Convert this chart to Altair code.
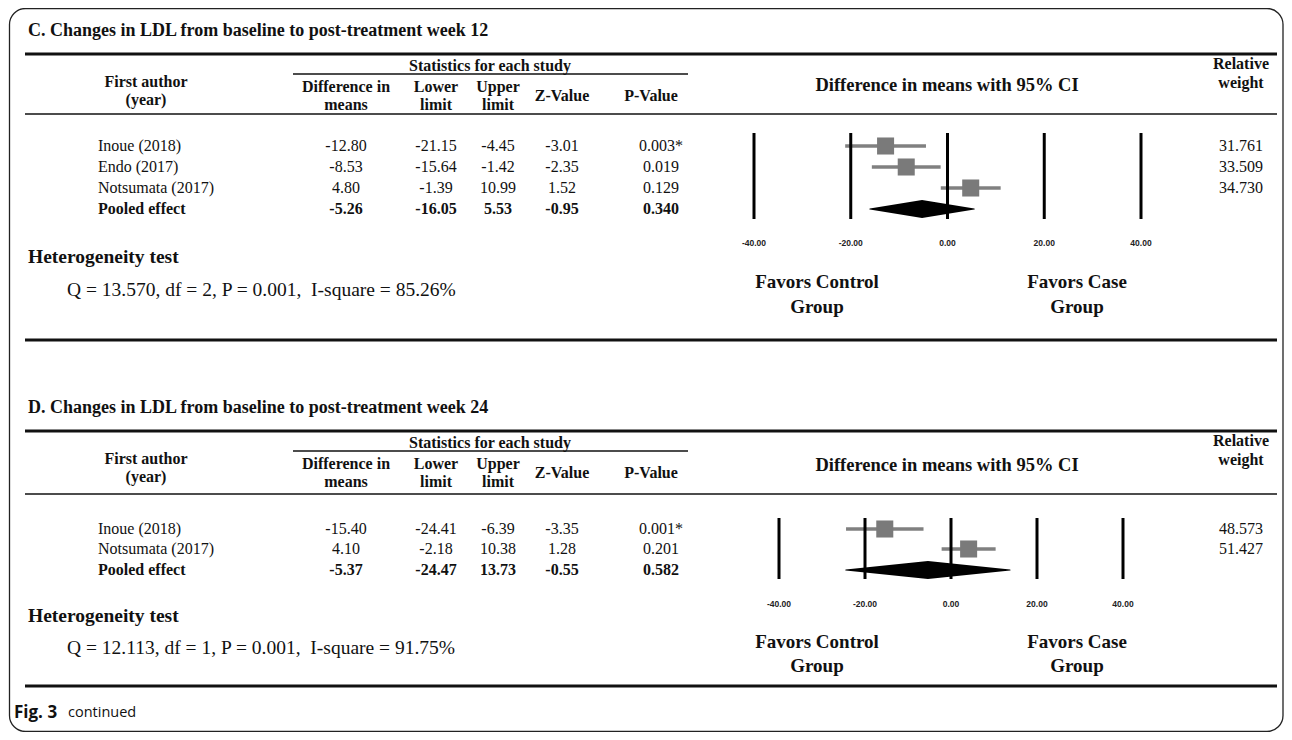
import altair as alt
import pandas as pd

# ---------------- data ----------------
c_title = "C. Changes in LDL from baseline to post-treatment week 12"
c_authors = ["Inoue (2018)", "Endo (2017)", "Notsumata (2017)"]
c_diff = [-12.80, -8.53, 4.80]
c_lower = [-21.15, -15.64, -1.39]
c_upper = [-4.45, -1.42, 10.99]
c_z = [-3.01, -2.35, 1.52]
c_p = ["0.003*", "0.019", "0.129"]
c_weight = [31.761, 33.509, 34.730]
c_pooled = [-5.26, -16.05, 5.53, -0.95]
c_pooled_p = "0.340"
c_het = "Q = 13.570, df = 2, P = 0.001, \u00a0I-square = 85.26%"

d_title = "D. Changes in LDL from baseline to post-treatment week 24"
d_authors = ["Inoue (2018)", "Notsumata (2017)"]
d_diff = [-15.40, 4.10]
d_lower = [-24.41, -2.18]
d_upper = [-6.39, 10.38]
d_z = [-3.35, 1.28]
d_p = ["0.001*", "0.201"]
d_weight = [48.573, 51.427]
d_pooled = [-5.37, -24.47, 13.73, -0.55]
d_pooled_p = "0.582"
d_het = "Q = 12.113, df = 1, P = 0.001, \u00a0I-square = 91.75%"

axis_ticks = [-40, -20, 0, 20, 40]
col_headers = [["Difference in", "means"], ["Lower", "limit"], ["Upper", "limit"], ["Z-Value"], ["P-Value"]]

# ---------------- layout (page pixels) ----------------
OFF = 8
W, H = 1276, 724
NAME_X = 98
FA_X = 146
COLS = [346, 436, 498, 562, 661]
HDR_COLS = [346, 436, 498, 562, 651]
STATS_X = 490
UNDER = (293, 688)
CI_X = 947
REL_X = 1241
FAV = (817, 1077)
RULE = (25, 1277)
TITLE_X = 28
Q_X = 67
DIAMOND_H = 18

SERIF = "Liberation Serif"
SANS = "Liberation Sans"

LC = dict(title=31, bold=54, stats=66, under=74, fa1=82, fa2=100, h1=87, h2=105, zp=96,
          rel1=64, rel2=83, ci=85, thin=114, rows=[146, 167, 188], pooled=209,
          vtop=133, vbot=219, ticks=243, het=257, q=290, fav1=282, fav2=307, bottom=340,
          fx=(754, 1141))
LD = dict(title=408, bold=431, stats=443, under=451, fa1=459, fa2=477, h1=464, h2=482, zp=473,
          rel1=441, rel2=460, ci=465, thin=494, rows=[529, 549], pooled=570,
          vtop=518, vbot=579, ticks=604, het=616, q=648, fav1=642, fav2=666, bottom=686,
          fx=(779, 1123))

texts = []
rules = []


def T(s, x, y, fs, style):
    texts.append(dict(t=s, x=x - OFF, y=y - OFF, fs=fs, st=style))


def R(x1, x2, y, w):
    rules.append(dict(x1=x1 - OFF, x2=x2 - OFF, y=y - OFF, w=w))


forest_layers = []


def panel(L, title, authors, diff, lower, upper, z, p, weight, pooled, pooled_p, het):
    T(title, TITLE_X, L["title"], 18, "sbl")
    R(RULE[0], RULE[1], L["bold"], 3)
    T("Statistics for each study", STATS_X, L["stats"], 16, "sbc")
    R(UNDER[0], UNDER[1], L["under"], 1.5)
    T("First author", FA_X, L["fa1"], 16, "sbc")
    T("(year)", FA_X, L["fa2"], 16, "sbc")
    for cx, hdr in zip(HDR_COLS, col_headers):
        if len(hdr) == 2:
            T(hdr[0], cx, L["h1"], 16, "sbc")
            T(hdr[1], cx, L["h2"], 16, "sbc")
        else:
            T(hdr[0], cx, L["zp"], 16, "sbc")
    T("Difference in means with 95% CI", CI_X, L["ci"], 18.5, "sbc")
    T("Relative", REL_X, L["rel1"], 16, "sbc")
    T("weight", REL_X, L["rel2"], 16, "sbc")
    R(RULE[0], RULE[1], L["thin"], 1.5)
    for i, a in enumerate(authors):
        y = L["rows"][i]
        T(a, NAME_X, y, 16, "srl")
        vals = [f"{diff[i]:.2f}", f"{lower[i]:.2f}", f"{upper[i]:.2f}", f"{z[i]:.2f}", p[i]]
        for cx, v in zip(COLS, vals):
            T(v, cx, y, 16, "src")
        T(f"{weight[i]:.3f}", REL_X, y, 16, "src")
    yp = L["pooled"]
    T("Pooled effect", NAME_X, yp, 16, "sbl")
    pv = [f"{v:.2f}" for v in pooled] + [pooled_p]
    for cx, v in zip(COLS, pv):
        T(v, cx, yp, 16, "sbc")
    T("Heterogeneity test", TITLE_X, L["het"], 19.5, "sbl")
    T(het, Q_X, L["q"], 19.5, "srl")
    T("Favors Control", FAV[0], L["fav1"], 19, "sbc")
    T("Group", FAV[0], L["fav2"], 19, "sbc")
    T("Favors Case", FAV[1], L["fav1"], 19, "sbc")
    T("Group", FAV[1], L["fav2"], 19, "sbc")
    R(RULE[0], RULE[1], L["bottom"], 3)

    # forest plot
    fs = alt.Scale(domain=[-40, 40], range=[L["fx"][0] - OFF, L["fx"][1] - OFF])
    ys = [y - OFF for y in L["rows"]]
    ci_df = pd.DataFrame({"lo": lower, "hi": upper, "est": diff, "y": ys})
    vl_df = pd.DataFrame({"tick": axis_ticks, "y1": L["vtop"] - OFF, "y2": L["vbot"] - OFF,
                          "lab": [f"{t:.2f}" for t in axis_ticks], "yl": L["ticks"] - OFF})
    yc = yp - OFF
    # pooled diamond: lower limit -> estimate -> upper limit, width tapering to zero at the limits
    dm_df = pd.DataFrame({"ex": [pooled[1], pooled[0], pooled[2]],
                          "yc": [yc, yc, yc], "w": [0, DIAMOND_H, 0], "o": [0, 1, 2]})
    forest_layers.extend([
        alt.Chart(ci_df).mark_rule(color="#808080", strokeWidth=3.5).encode(
            x=alt.X("lo:Q", scale=fs, axis=None), x2="hi:Q", y=alt.Y("y:Q", scale=None)),
        alt.Chart(ci_df).mark_square(color="#7a7a7a", size=290, opacity=1).encode(
            x=alt.X("est:Q", scale=fs, axis=None), y=alt.Y("y:Q", scale=None)),
        alt.Chart(dm_df).mark_trail(color="black", opacity=1).encode(
            x=alt.X("ex:Q", scale=fs, axis=None),
            y=alt.Y("yc:Q", scale=None, axis=None),
            size=alt.Size("w:Q", scale=None),
            order="o:Q"),
        alt.Chart(vl_df).mark_rule(color="black", strokeWidth=3).encode(
            x=alt.X("tick:Q", scale=fs, axis=None), y=alt.Y("y1:Q", scale=None), y2="y2:Q"),
        alt.Chart(vl_df).mark_text(font=SANS, fontWeight="bold", fontSize=8.5, color="#222222").encode(
            x=alt.X("tick:Q", scale=fs, axis=None), y=alt.Y("yl:Q", scale=None), text="lab:N"),
    ])


panel(LC, c_title, c_authors, c_diff, c_lower, c_upper, c_z, c_p, c_weight, c_pooled, c_pooled_p, c_het)
panel(LD, d_title, d_authors, d_diff, d_lower, d_upper, d_z, d_p, d_weight, d_pooled, d_pooled_p, d_het)

# caption
T("Fig. 3", 14, 713, 17, "nbl")
T("continued", 68, 713, 14.5, "nrl")

tdf = pd.DataFrame(texts)
rdf = pd.DataFrame(rules)

styles = {
    "sbl": dict(font=SERIF, fontWeight="bold", align="left"),
    "sbc": dict(font=SERIF, fontWeight="bold", align="center"),
    "srl": dict(font=SERIF, fontWeight="normal", align="left"),
    "src": dict(font=SERIF, fontWeight="normal", align="center"),
    "nbl": dict(font="Open Sans", fontWeight="bold", align="left"),
    "nrl": dict(font="Open Sans", fontWeight="normal", align="left"),
}

text_layers = []
for key, st in styles.items():
    sub = tdf[tdf["st"] == key]
    if len(sub) == 0:
        continue
    text_layers.append(
        alt.Chart(sub).mark_text(baseline="middle", color="#111111", **st).encode(
            x=alt.X("x:Q", scale=None, axis=None), y=alt.Y("y:Q", scale=None, axis=None),
            text="t:N", size=alt.Size("fs:Q", scale=None))
    )

rule_layer = alt.Chart(rdf).mark_rule(color="#111111").encode(
    x=alt.X("x1:Q", scale=None, axis=None), x2="x2:Q", y=alt.Y("y:Q", scale=None, axis=None),
    strokeWidth=alt.StrokeWidth("w:Q", scale=None))

border_df = pd.DataFrame({"x1": [9.5 - OFF], "x2": [1283 - OFF], "y1": [8.5 - OFF], "y2": [731.5 - OFF]})
border = alt.Chart(border_df).mark_rect(fillOpacity=0, stroke="#222222", strokeWidth=1.3,
                                        cornerRadius=16).encode(
    x=alt.X("x1:Q", scale=None, axis=None), x2="x2:Q",
    y=alt.Y("y1:Q", scale=None, axis=None), y2="y2:Q")

chart = alt.layer(border, rule_layer, *forest_layers, *text_layers).resolve_scale(
    x="independent", y="independent", size="independent"
).properties(
    width=W, height=H, padding=0, autosize=alt.AutoSizeParams(type="none")
).configure_view(stroke=None)

chart.save("out.html", embed_options={"renderer": "svg", "actions": False})
